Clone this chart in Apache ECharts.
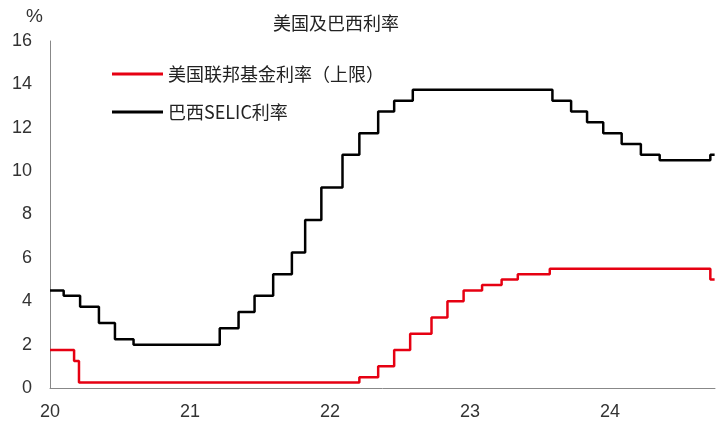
<!DOCTYPE html>
<html>
<head>
<meta charset="utf-8">
<script src="https://cdn.jsdelivr.net/npm/echarts@6/dist/echarts.min.js"></script>
<style>
  html, body { margin: 0; padding: 0; background: #fff; }
  #chart { width: 723px; height: 426px; }
</style>
</head>
<body>
<div id="chart"></div>
<script>
// Policy-rate decision dates and the rate in force from that date on
const fedDates = ['2020-01-01', '2020-03-03', '2020-03-16', '2022-03-17', '2022-05-05', '2022-06-16',
  '2022-07-28', '2022-09-22', '2022-11-03', '2022-12-15', '2023-02-02', '2023-03-23',
  '2023-05-04', '2023-07-27', '2024-09-19', '2024-09-30'];
const fedRates = [1.75, 1.25, 0.25, 0.50, 1.00, 1.75, 2.50, 3.25, 4.00, 4.50, 4.75, 5.00, 5.25, 5.50, 5.00, 5.00];

const selicDates = ['2020-01-01', '2020-02-06', '2020-03-19', '2020-05-07', '2020-06-18', '2020-08-06',
  '2021-03-18', '2021-05-06', '2021-06-17', '2021-08-05', '2021-09-23', '2021-10-28',
  '2021-12-09', '2022-02-03', '2022-03-17', '2022-05-05', '2022-06-16', '2022-08-04',
  '2023-08-03', '2023-09-21', '2023-11-02', '2023-12-14', '2024-02-01', '2024-03-21',
  '2024-05-09', '2024-09-19', '2024-09-30'];
const selicRates = [4.50, 4.25, 3.75, 3.00, 2.25, 2.00, 2.75, 3.50, 4.25, 5.25, 6.25, 7.75, 9.25,
  10.75, 11.75, 12.75, 13.25, 13.75, 13.25, 12.75, 12.25, 11.75, 11.25, 10.75, 10.50, 10.75, 10.75];

const yearLabels = ['20', '21', '22', '23', '24'];
const seriesNames = ['美国联邦基金利率（上限）', '巴西SELIC利率'];

// Months elapsed since 2020-01-01 (fractional within the month)
function toMonths(s) {
  const [y, m, d] = s.split('-').map(Number);
  const dim = new Date(y, m, 0).getDate();
  return (y - 2020) * 12 + (m - 1) + (d - 1) / dim;
}
const pairs = (dates, vals) => dates.map((d, i) => [toMonths(d), vals[i]]);

const FONT = '"Noto Sans CJK SC", "Noto Sans", sans-serif';
const NUM_FONT = '"Liberation Sans", Arial, sans-serif';
const chart = echarts.init(document.getElementById('chart'));
chart.setOption({
  animation: false,
  title: {
    text: '美国及巴西利率',
    left: 331, top: 9, textAlign: 'center',
    textStyle: { fontFamily: FONT, fontSize: 18, fontWeight: 'normal', color: '#222' }
  },
  legend: {
    orient: 'vertical',
    left: 107, top: 60,
    itemWidth: 51, itemHeight: 3, itemGap: 20,
    icon: 'rect',
    textStyle: { fontFamily: FONT, fontSize: 18, color: '#222' },
    data: seriesNames
  },
  grid: { left: 50, right: 8, top: 41, bottom: 38 },
  xAxis: {
    type: 'value',
    min: 0, max: 57, interval: 12,
    axisLine: { lineStyle: { color: '#888', width: 1 } },
    axisTick: { show: false },
    splitLine: { show: false },
    axisLabel: {
      margin: 15, fontFamily: NUM_FONT, fontSize: 18, color: '#333', showMaxLabel: false,
      formatter: v => (v % 12 === 0 ? yearLabels[v / 12] : '')
    }
  },
  yAxis: {
    type: 'value',
    min: 0, max: 16, interval: 2,
    name: '%',
    nameLocation: 'end',
    nameGap: 15,
    nameTextStyle: { fontFamily: NUM_FONT, fontSize: 19, color: '#333', align: 'right', padding: [0, 7, 0, 0] },
    axisLine: { show: true, lineStyle: { color: '#888', width: 1 } },
    axisTick: { show: false },
    splitLine: { show: false },
    axisLabel: { margin: 18, fontFamily: NUM_FONT, fontSize: 18, color: '#333' }
  },
  series: [
    {
      name: seriesNames[0], type: 'line', step: 'end', showSymbol: false, symbol: 'none',
      color: '#e60012', lineStyle: { width: 2.5, color: '#e60012' },
      data: pairs(fedDates, fedRates)
    },
    {
      name: seriesNames[1], type: 'line', step: 'end', showSymbol: false, symbol: 'none',
      color: '#000', lineStyle: { width: 2.5, color: '#000' },
      data: pairs(selicDates, selicRates)
    }
  ]
});
</script>
</body>
</html>
